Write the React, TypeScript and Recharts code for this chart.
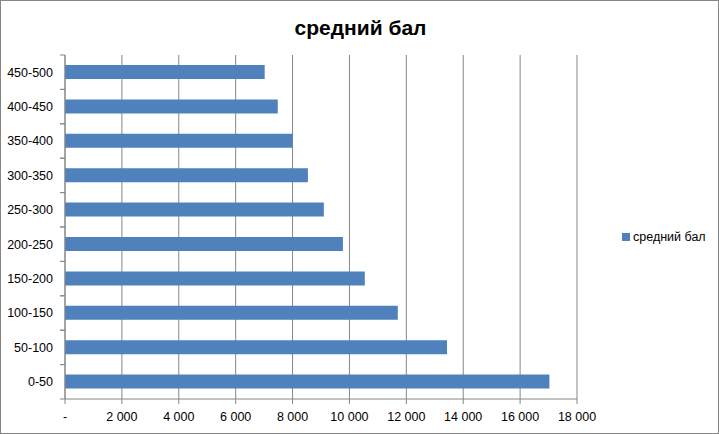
import React from "react";
import {
  BarChart,
  Bar,
  XAxis,
  YAxis,
  CartesianGrid,
} from "recharts";

const ranges = [
  "0-50",
  "50-100",
  "100-150",
  "150-200",
  "200-250",
  "250-300",
  "300-350",
  "350-400",
  "400-450",
  "450-500",
];
const avgScore = [17030, 13430, 11700, 10540, 9770, 9100, 8540, 8000, 7480, 7020];
const xTicks = [0, 2000, 4000, 6000, 8000, 10000, 12000, 14000, 16000, 18000];
const seriesName = "средний бал";

const data = ranges.map((range, i) => ({ range, value: avgScore[i] }));

const W = 719;
const H = 434;
const PLOT_LEFT = 65;
const PLOT_TOP = 55;
const PLOT_RIGHT = 577;
const PLOT_BOTTOM = 399;
const BAND = (PLOT_BOTTOM - PLOT_TOP) / ranges.length;
const GRAY = "#868686";
const BLUE = "#4F81BD";
const FONT = "'Liberation Sans', Arial, sans-serif";

const fmt = (v: number) =>
  v === 0 ? "-" : v.toString().replace(/\B(?=(\d{3})+(?!\d))/g, " ");

function RangeTick({ y, payload }: { y?: number; payload?: { value: string } }) {
  const cy = y ?? 0;
  return (
    <g>
      <line x1={PLOT_LEFT - 5} x2={PLOT_LEFT} y1={cy - BAND / 2} y2={cy - BAND / 2} stroke={GRAY} />
      <line x1={PLOT_LEFT - 5} x2={PLOT_LEFT} y1={cy + BAND / 2} y2={cy + BAND / 2} stroke={GRAY} />
      <text x={PLOT_LEFT - 12} y={cy} dy="0.35em" textAnchor="end" fontSize={12.5} fill="#000" fontFamily={FONT}>
        {payload?.value}
      </text>
    </g>
  );
}

export default function App() {
  return (
    <div
      style={{
        position: "absolute",
        left: 0,
        top: 0,
        width: W,
        height: H,
        boxSizing: "border-box",
        border: `1px solid ${GRAY}`,
        background: "#fff",
        overflow: "hidden",
      }}
    >
      <div
        style={{
          position: "absolute",
          left: 0,
          top: 15,
          width: W,
          textAlign: "center",
          fontFamily: FONT,
          fontWeight: "bold",
          fontSize: 21,
          color: "#000",
        }}
      >
        средний бал
      </div>
      <div style={{ position: "absolute", left: -1, top: -1 }}>
        <BarChart
          width={W}
          height={H}
          data={data}
          layout="vertical"
          margin={{ top: PLOT_TOP, right: W - PLOT_RIGHT, bottom: 0, left: 0 }}
        >
          <CartesianGrid horizontal={false} vertical stroke={GRAY} />
          <XAxis
            type="number"
            domain={[0, 18000]}
            ticks={xTicks}
            tickFormatter={fmt}
            height={H - PLOT_BOTTOM}
            stroke={GRAY}
            tickSize={5}
            tickMargin={8}
            tick={{ fill: "#000", fontSize: 12.5, fontFamily: FONT }}
            interval={0}
          />
          <YAxis
            type="category"
            dataKey="range"
            reversed
            width={PLOT_LEFT}
            stroke={GRAY}
            tickLine={false}
            tick={<RangeTick />}
            interval={0}
          />
          <Bar dataKey="value" name={seriesName} fill={BLUE} barSize={14} isAnimationActive={false} />
        </BarChart>
      </div>
      <div
        style={{
          position: "absolute",
          left: 621,
          top: 229,
          display: "flex",
          alignItems: "center",
          fontFamily: FONT,
          fontSize: 12.5,
          color: "#000",
        }}
      >
        <span style={{ width: 8, height: 8, background: BLUE, marginRight: 3, display: "inline-block" }} />
        {seriesName}
      </div>
    </div>
  );
}
